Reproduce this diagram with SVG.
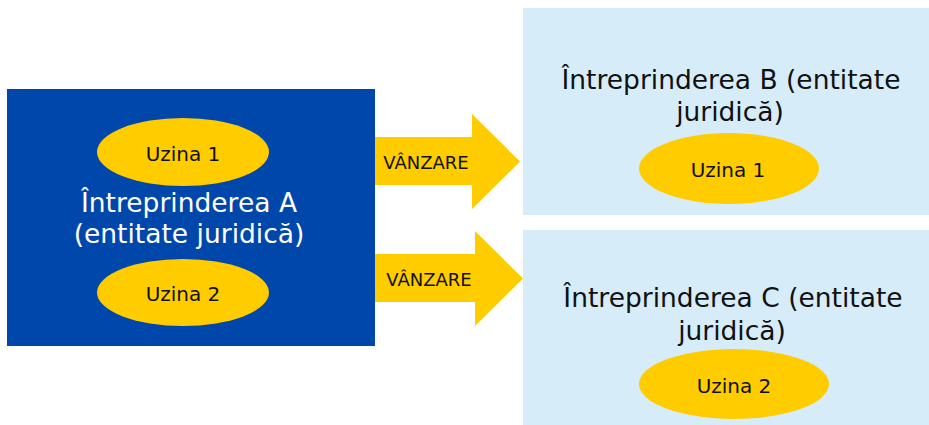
<svg xmlns="http://www.w3.org/2000/svg" width="929" height="425" viewBox="0 0 929 425">
<style>
.big{font-family:"DejaVu Sans",Verdana,sans-serif;font-size:26.5px;text-anchor:middle}
.uz{font-family:"DejaVu Sans",Verdana,sans-serif;font-size:20px;text-anchor:middle;fill:#111}
.lbl{font-family:"DejaVu Sans",Verdana,sans-serif;font-size:18px;text-anchor:middle;fill:#111}
.yel{fill:#FFCC00}
.lb{fill:#D6EDF9}
</style>
<rect width="929" height="425" fill="#fff"/>
<g id="connectors">
<g id="arrow1">
<polygon class="yel" points="375,137 472,137 472,114 520,161.5 472,209 472,185 375,185"/>
<text class="lbl" x="426" y="169">VÂNZARE</text>
</g>
<g id="arrow2">
<polygon class="yel" points="375,254 475,254 475,231 523,278.5 475,326 475,302 375,302"/>
<text class="lbl" x="429" y="286">VÂNZARE</text>
</g>
</g>
<g id="nodeA">
<rect x="7" y="89" width="368" height="257" fill="#0047AB"/>
<ellipse class="yel" cx="183" cy="152" rx="86" ry="34"/>
<text class="uz" x="183" y="161">Uzina 1</text>
<text class="big" x="189" y="212" fill="#fff">Întreprinderea A</text>
<text class="big" x="189" y="243" fill="#fff">(entitate juridică)</text>
<ellipse class="yel" cx="183" cy="292.5" rx="86" ry="33.5"/>
<text class="uz" x="183" y="301">Uzina 2</text>
</g>
<g id="nodeB">
<rect class="lb" x="523" y="8" width="406" height="207"/>
<text class="big" x="731" y="89" fill="#111">Întreprinderea B (entitate</text>
<text class="big" x="730" y="121" fill="#111">juridică)</text>
<ellipse class="yel" cx="729" cy="168.5" rx="90" ry="35.5"/>
<text class="uz" x="728" y="177">Uzina 1</text>
</g>
<g id="nodeC">
<rect class="lb" x="523" y="230" width="406" height="195"/>
<text class="big" x="733" y="307" fill="#111">Întreprinderea C (entitate</text>
<text class="big" x="732" y="340" fill="#111">juridică)</text>
<ellipse class="yel" cx="734" cy="384" rx="95" ry="35"/>
<text class="uz" x="734" y="393">Uzina 2</text>
</g>
</svg>
